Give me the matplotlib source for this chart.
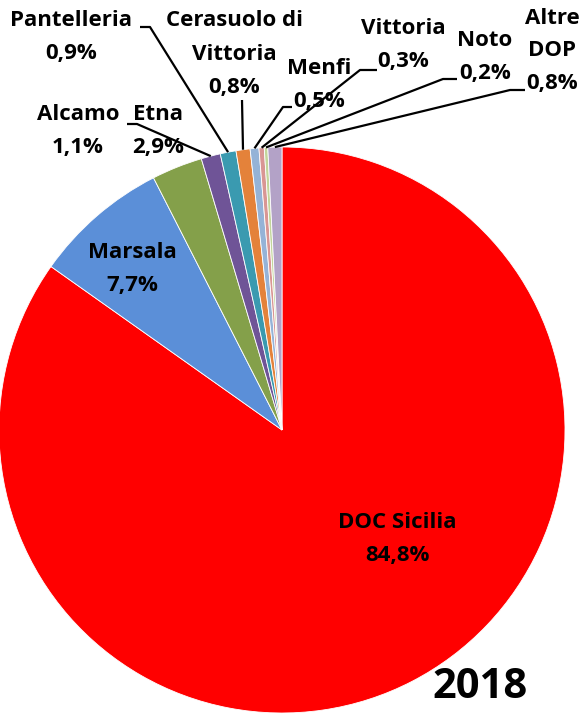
import numpy as np
import matplotlib
matplotlib.use("Agg")
import matplotlib.pyplot as plt

# DOP wine share, 2018
labels = ["DOC Sicilia", "Marsala", "Etna", "Alcamo", "Pantelleria",
          "Cerasuolo di\nVittoria", "Menfi", "Vittoria", "Noto", "Altre\nDOP"]
shares = [84.8, 7.7, 2.9, 1.1, 0.9, 0.8, 0.5, 0.3, 0.2, 0.8]
colors = ["#FF0000", "#5B8FD8", "#84A04A", "#6F5497", "#3A9AB0",
          "#E4823A", "#95B3D7", "#D99694", "#C3D69B", "#B3A2C7"]
year = "2018"

W, H = 584, 717
plt.rcParams["font.family"] = ["Open Sans", "DejaVu Sans"]
plt.rcParams["font.weight"] = "bold"


def P(x, y):
    # screen-style (x, y from top) -> data coords
    return x, H - y


fig = plt.figure(figsize=(W / 100, H / 100), dpi=100)
ax = fig.add_axes([0, 0, 1, 1])

cx, cy = P(282, 430)
R = 283
wedges, _ = ax.pie(shares, colors=colors, startangle=90, counterclock=False,
                   radius=R, center=(cx, cy),
                   wedgeprops=dict(edgecolor="white", linewidth=0.6))

ax.set_xlim(0, W)
ax.set_ylim(0, H)
ax.set_aspect("equal")
ax.axis("off")


def pct(v):
    return f"{v:.1f}%".replace(".", ",")


def edge_point(i):
    w = wedges[i]
    a = np.deg2rad((w.theta1 + w.theta2) / 2)
    return cx + R * np.cos(a), cy + R * np.sin(a)


fs = 16
# label text centre positions (x, y from top) for the name line
label_pos = {
    0: (397, 523),
    1: (132, 253),
    2: (158, 115),
    3: (78, 115),
    4: (71, 21),
    5: (234, 21),
    6: (319, 68),
    7: (403, 28),
    8: (485, 40),
    9: (552, 18),
}
line_gap = 33
for i, (x, y) in label_pos.items():
    name_lines = labels[i].split("\n")
    rows = name_lines + [pct(shares[i])]
    for k, row in enumerate(rows):
        ax.text(*P(x, y + k * line_gap), row, ha="center", va="center",
                fontsize=fs, fontweight="bold", color="black")

# leader lines: elbow points (x, y from top), far end first
leaders = {
    3: [(127, 124), (137, 124)],
    4: [(140, 27), (150, 27)],
    5: [(242, 100)],
    6: [(292, 107), (283, 107)],
    7: [(377, 70), (360, 70)],
    8: [(457, 79), (443, 79)],
    9: [(525, 90), (510, 90)],
}
for i, pts in leaders.items():
    ex, ey = edge_point(i)
    lx = [P(*p)[0] for p in pts] + [ex]
    ly = [P(*p)[1] for p in pts] + [ey]
    ax.plot(lx, ly, color="black", lw=1.6, solid_capstyle="butt")

ax.text(*P(480, 688), year, ha="center", va="center", fontsize=30,
        fontweight="bold", color="black")

fig.savefig("out.png", dpi=100)
